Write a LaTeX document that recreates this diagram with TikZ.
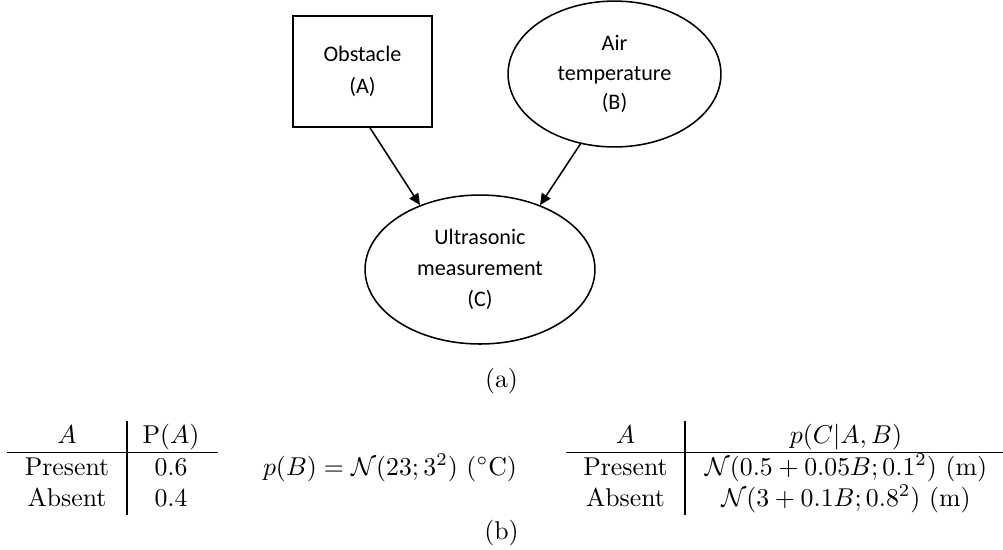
\documentclass[tikz,border=0pt]{standalone}
\usepackage{fontspec}
\newfontfamily\calib{Carlito}
\usetikzlibrary{arrows.meta,shapes.geometric}
\tikzset{
  dnode/.style={draw=black, line width=0.6pt, inner sep=0pt, align=center},
  boxnode/.style={dnode, rectangle, minimum width=53.9pt, minimum height=43.1pt},
  ellnode/.style={dnode, ellipse},
  arr/.style={line width=0.6pt, -{Triangle[length=4.4pt,width=4pt]}},
  cell/.style={anchor=base, inner sep=0pt},
  rule/.style={line width=0.4pt}
}
\begin{document}
\begin{tikzpicture}[x=0.388pt,y=-0.388pt]
\useasboundingbox (0,0) rectangle (1003,549);
% (a) network
\node[boxnode, font=\calib\fontsize{8.6pt}{12.4pt}\selectfont] (A) at (362.5,71.5) {Obstacle\\(A)};
\node[ellnode, minimum width=82.6pt, minimum height=56.6pt, font=\calib\fontsize{8.6pt}{11.3pt}\selectfont] (B) at (614.5,74) {Air\\temperature\\(B)};
\node[ellnode, minimum width=89.2pt, minimum height=57.8pt, font=\calib\fontsize{8.6pt}{12pt}\selectfont] (C) at (480,269.5) {Ultrasonic\\measurement\\(C)};
\draw[arr] ([xshift=2.9pt]A.south) -- (C.133);
\draw[arr] (B.244) -- (C.47);
\node[cell] (capa) at (501.5,387) {(a)};
% (b) left table
\node[cell] (lh1) at (67,443) {$A$};
\node[cell] (lh2) at (171,443) {$\mathrm{P}(A)$};
\node[cell] (lr1) at (67,475) {Present};
\node[cell] (lv1) at (171,475) {$0.6$};
\node[cell] (lr2) at (67,506) {Absent};
\node[cell] (lv2) at (171,506) {$0.4$};
\draw[rule] (7,452) -- (218,452);
\draw[rule] (127,421) -- (127,515);
% p(B)
\node[cell] (pB) at (390,475) {$p(B) = \mathcal{N}(23;3^2)\ (^{\circ}\mathrm{C})$};
% right table
\node[cell] (rh1) at (625.5,443) {$A$};
\node[cell] (rh2) at (846,443) {$p(C|A,B)$};
\node[cell] (rr1) at (625.5,475) {Present};
\node[cell] (rv1) at (846,475) {$\mathcal{N}(0.5+0.05B;0.1^2)\ (\mathrm{m})$};
\node[cell] (rr2) at (625.5,506) {Absent};
\node[cell] (rv2) at (846,506) {$\mathcal{N}(3+0.1B;0.8^2)\ (\mathrm{m})$};
\draw[rule] (566,452) -- (1003,452);
\draw[rule] (685,421) -- (685,515);
\node[cell] (capb) at (501.5,539.5) {(b)};
\end{tikzpicture}
\end{document}
